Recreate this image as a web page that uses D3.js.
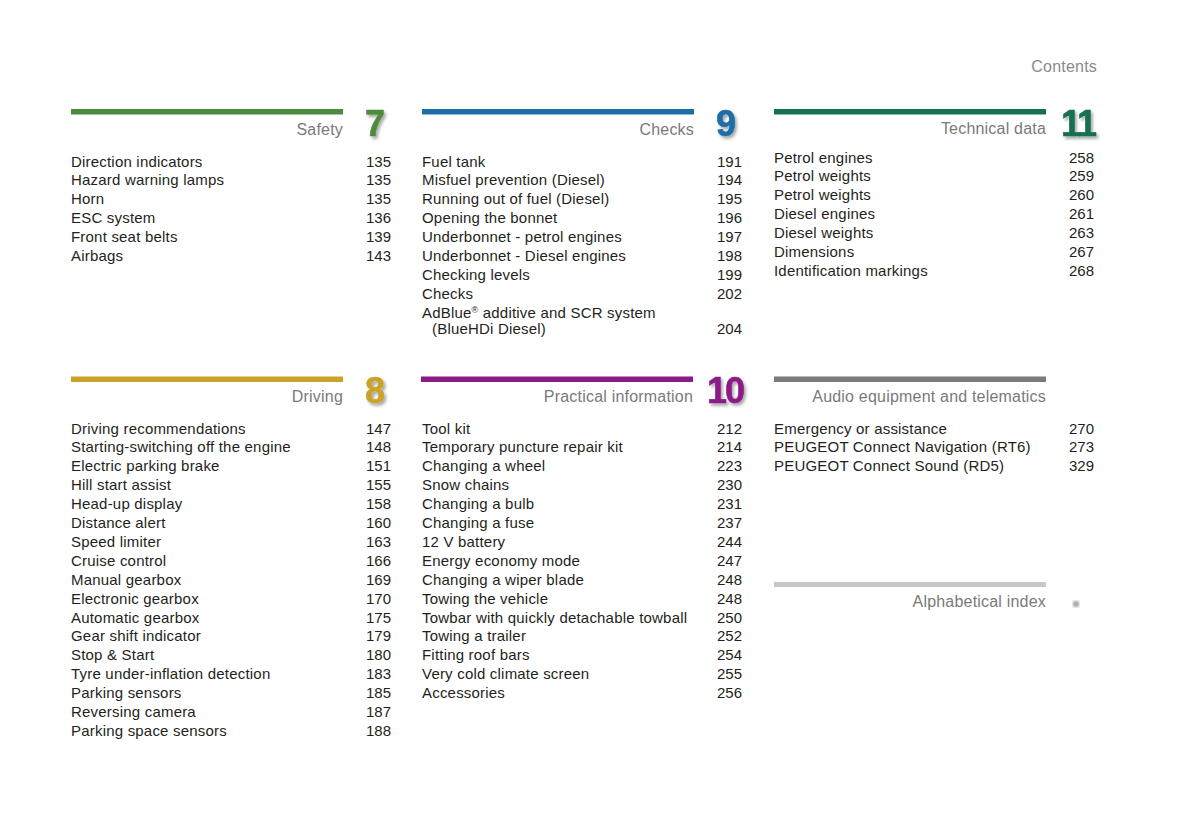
<!DOCTYPE html>
<html><head><meta charset="utf-8">
<script src="https://cdn.jsdelivr.net/npm/d3@7"></script>
<style>
html,body{margin:0;padding:0;background:#fff;}
svg text{font-family:"Liberation Sans",Arial,Helvetica,sans-serif;}
</style></head>
<body><svg id="c" width="1191" height="840"></svg>
<script>
// ---- data ----
const sectionNumbers = ["7","9","11","8","10",""];
const sectionTitles = ["Safety","Checks","Technical data","Driving","Practical information","Audio equipment and telematics"];
const sectionColors = ["#4b8c3c","#1c6ea8","#17704f","#c9a228","#8b1b86","#7b7b7b"];

const safetyItems = ["Direction indicators","Hazard warning lamps","Horn","ESC system","Front seat belts","Airbags"];
const safetyPages = ["135","135","135","136","139","143"];

const checksItems = ["Fuel tank","Misfuel prevention (Diesel)","Running out of fuel (Diesel)","Opening the bonnet","Underbonnet - petrol engines","Underbonnet - Diesel engines","Checking levels","Checks","AdBlue® additive and SCR system|(BlueHDi Diesel)"];
const checksPages = ["191","194","195","196","197","198","199","202","204"];

const techItems = ["Petrol engines","Petrol weights","Petrol weights","Diesel engines","Diesel weights","Dimensions","Identification markings"];
const techPages = ["258","259","260","261","263","267","268"];

const drivingItems = ["Driving recommendations","Starting-switching off the engine","Electric parking brake","Hill start assist","Head-up display","Distance alert","Speed limiter","Cruise control","Manual gearbox","Electronic gearbox","Automatic gearbox","Gear shift indicator","Stop & Start","Tyre under-inflation detection","Parking sensors","Reversing camera","Parking space sensors"];
const drivingPages = ["147","148","151","155","158","160","163","166","169","170","175","179","180","183","185","187","188"];

const practicalItems = ["Tool kit","Temporary puncture repair kit","Changing a wheel","Snow chains","Changing a bulb","Changing a fuse","12 V battery","Energy economy mode","Changing a wiper blade","Towing the vehicle","Towbar with quickly detachable towball","Towing a trailer","Fitting roof bars","Very cold climate screen","Accessories"];
const practicalPages = ["212","214","223","230","231","237","244","247","248","248","250","252","254","255","256"];

const audioItems = ["Emergency or assistance","PEUGEOT Connect Navigation (RT6)","PEUGEOT Connect Sound (RD5)"];
const audioPages = ["270","273","329"];

const headerText = "Contents";
const indexTitle = "Alphabetical index";

// ---- layout ----
const svg = d3.select("#c");
const defs = svg.append("defs");
const f = defs.append("filter").attr("id","sh").attr("x","-30%").attr("y","-30%").attr("width","170%").attr("height","170%");
f.append("feDropShadow").attr("dx",2).attr("dy",2.5).attr("stdDeviation",1.6).attr("flood-color","#000").attr("flood-opacity",0.35);
const f2 = defs.append("filter").attr("id","bl");
f2.append("feGaussianBlur").attr("stdDeviation",0.9);

const colX = d3.scaleOrdinal().domain([0,1,2]).range([71,422,774]);
const colW = 272;
const pageRight = 48;
const LS = 0.2;

svg.append("text").attr("x",1097).attr("y",72).attr("text-anchor","end").attr("letter-spacing",LS)
  .attr("font-size",16).attr("fill","#8a8a8a").text(headerText);

const sections = [
  {items:safetyItems,pages:safetyPages,col:0,row:0},
  {items:checksItems,pages:checksPages,col:1,row:0},
  {items:techItems,pages:techPages,col:2,row:0},
  {items:drivingItems,pages:drivingPages,col:0,row:1},
  {items:practicalItems,pages:practicalPages,col:1,row:1},
  {items:audioItems,pages:audioPages,col:2,row:1}
];
const barY = [109,376.5];
const titleY = [134.5,401.5];
const firstY = [166.5,433.5];
const lineStep = 18.9;

sections.forEach((s,i)=>{
  const x0 = colX(s.col) - (i===4?1:0);
  const g = svg.append("g");
  g.append("rect").attr("x",x0).attr("y",barY[s.row]).attr("width",colW).attr("height",5.5).attr("fill",sectionColors[i]);
  g.append("text").attr("x",x0+colW).attr("y",titleY[s.row] - (i===2?1:0)).attr("text-anchor","end").attr("letter-spacing",LS)
    .attr("font-size",16).attr("fill","#7a7a7a").text(sectionTitles[i]);
  if(sectionNumbers[i]){
    g.append("text").attr("x",x0+colW+32).attr("y",titleY[s.row]+1).attr("text-anchor","middle")
      .attr("font-size",36).attr("font-weight","bold").attr("fill",sectionColors[i])
      .attr("letter-spacing",sectionNumbers[i].length>1?-2:0)
      .attr("stroke",sectionColors[i]).attr("stroke-width",0.6).attr("stroke-linejoin","round")
      .attr("filter","url(#sh)").text(sectionNumbers[i]);
  }
  const y0 = firstY[s.row] - (i===2?4:0);
  const y = d3.scaleLinear().domain([0,1]).range([y0,y0+lineStep]);
  s.items.forEach((it,k)=>{
    const parts = it.split("|");
    const t = g.append("text").attr("x",colX(s.col)).attr("y",y(k)).attr("font-size",15).attr("letter-spacing",LS).attr("fill","#231f20");
    const m = parts[0].split("®");
    t.append("tspan").text(m[0]);
    if(m.length>1){
      t.append("tspan").attr("font-size",9).attr("dy",-5).text("®");
      t.append("tspan").attr("dy",5).text(m[1]);
    }
    let py = y(k);
    if(parts.length>1){
      py = y(k)+16;
      g.append("text").attr("x",colX(s.col)+10).attr("y",py).attr("font-size",15).attr("letter-spacing",LS).attr("fill","#231f20").text(parts[1]);
    }
    g.append("text").attr("x",colX(s.col)+colW+pageRight).attr("y",py).attr("text-anchor","end")
      .attr("font-size",15).attr("fill","#231f20").text(s.pages[k]);
  });
});

// Alphabetical index
svg.append("rect").attr("x",774).attr("y",582).attr("width",colW).attr("height",5).attr("fill","#c8c8c8");
svg.append("text").attr("x",774+colW).attr("y",606.5).attr("text-anchor","end").attr("letter-spacing",LS)
  .attr("font-size",16).attr("fill","#7a7a7a").text(indexTitle);
svg.append("rect").attr("x",1073).attr("y",601).attr("width",6).attr("height",6).attr("fill","#aaaaaa").attr("filter","url(#bl)");
</script></body></html>
